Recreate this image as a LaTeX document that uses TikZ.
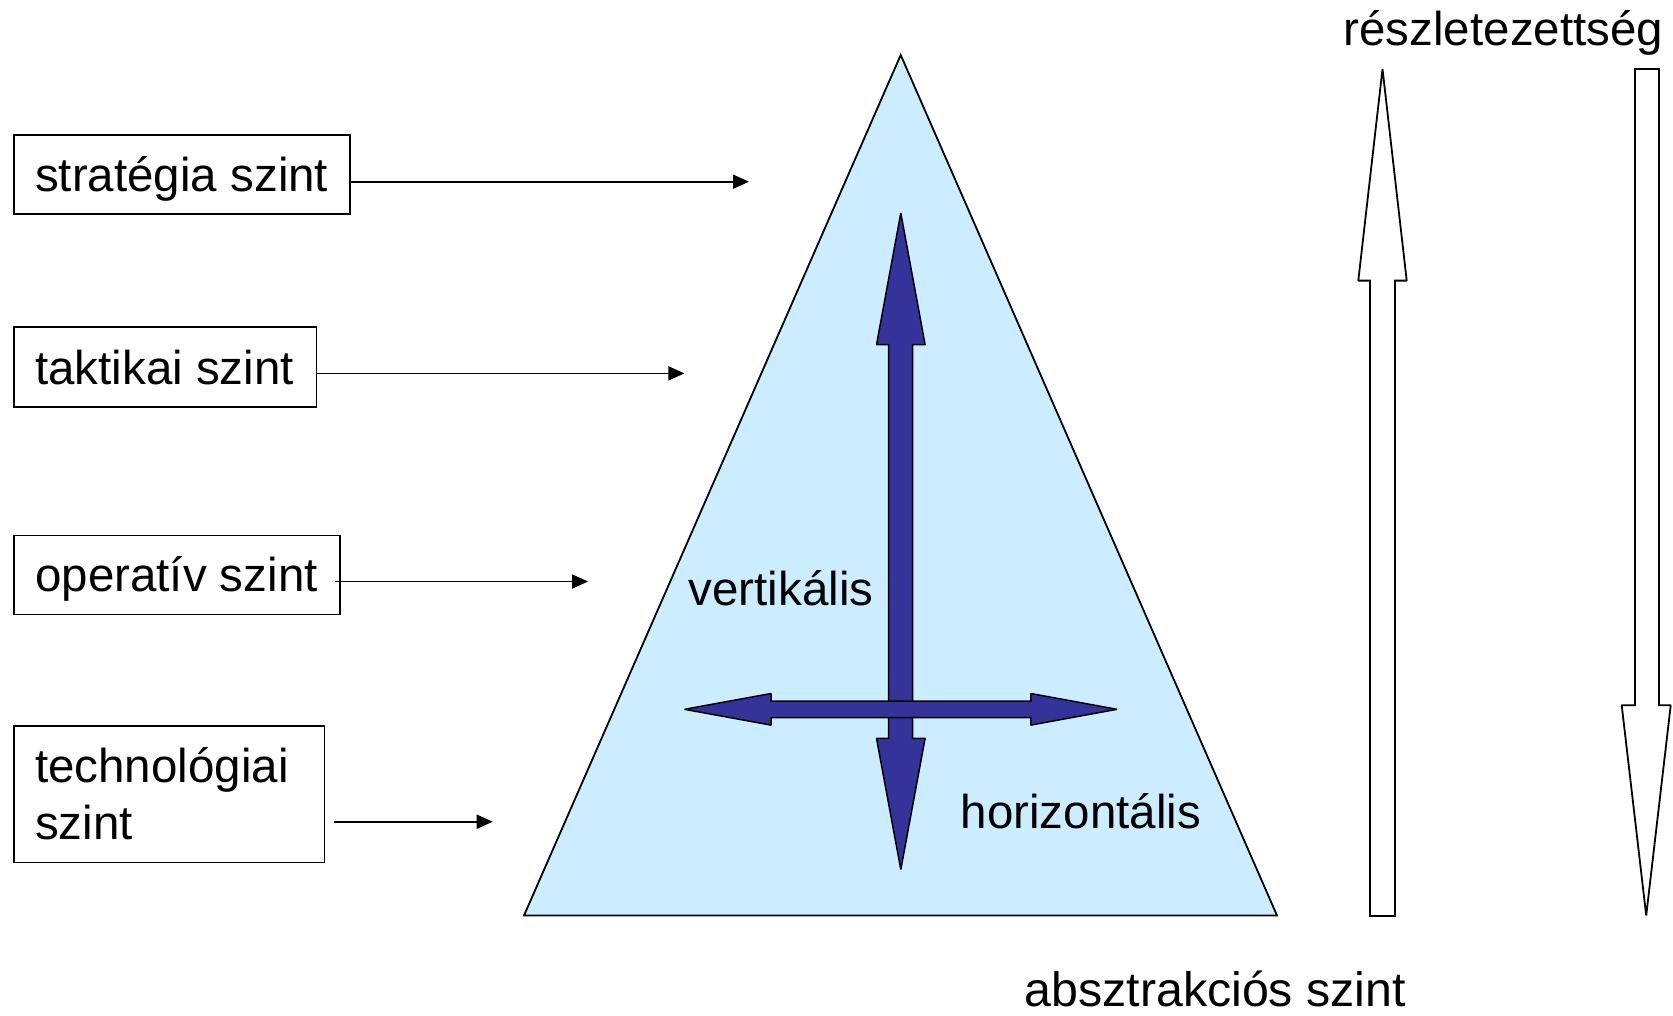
\documentclass[tikz,border=0pt]{standalone}
\usepackage{fontspec}
\setmainfont{Liberation Sans}
\usetikzlibrary{arrows.meta}
\definecolor{pyrfill}{HTML}{CCECFF}
\definecolor{darkarrow}{HTML}{333399}
\tikzset{
  lbl/.style={inner sep=0pt, anchor=base west, font=\fontsize{47.5}{57.7}\selectfont},
  levelbox/.style={draw=black, line width=1.8pt, inner sep=0pt, anchor=north west},
  conn/.style={line width=1.8pt, -{Triangle[length=16pt,width=14pt]}},
  blockdark/.style={fill=darkarrow, draw=black, line width=1.5pt, line join=miter, miter limit=1.5},
  blockwhite/.style={fill=white, draw=black, line width=1.8pt, line join=miter, miter limit=1.5},
}
\begin{document}
\begin{tikzpicture}[x=1pt,y=-1pt]
\useasboundingbox (0,0) rectangle (1673,1015);

% pyramid
\draw[fill=pyrfill, line width=1.8pt, line join=miter] (900.7,55) -- (1277,915.5) -- (524,915.5) -- cycle;

% vertical double arrow
\draw[blockdark] (900.8,213) -- (925.1,344.7) -- (912.7,344.7) -- (912.7,738.3)
  -- (925.1,738.3) -- (900.8,869.5) -- (876.5,738.3) -- (888.5,738.3)
  -- (888.5,344.7) -- (876.5,344.7) -- cycle;
% horizontal double arrow
\draw[blockdark] (684.5,709.3) -- (771,693.5) -- (771,701) -- (1030.8,701)
  -- (1030.8,693.5) -- (1117,709.3) -- (1030.8,725.1) -- (1030.8,717.6)
  -- (771,717.6) -- (771,725.1) -- cycle;

% right block arrows
\draw[blockwhite] (1382.5,69) -- (1406.7,280.6) -- (1395,280.6) -- (1395,916)
  -- (1370,916) -- (1370,280.6) -- (1358.3,280.6) -- cycle;
\draw[blockwhite] (1635,69) -- (1659,69) -- (1659,705.3) -- (1670.7,705.3)
  -- (1646.2,915.5) -- (1621.7,705.3) -- (1635,705.3) -- cycle;

% level boxes
\node[levelbox, minimum width=336pt, minimum height=79pt] (b1) at (13.3,134.3) {};
\node[levelbox, minimum width=302.2pt, minimum height=79.5pt] (b2) at (13.3,326.3) {};
\node[levelbox, minimum width=326pt, minimum height=79pt] (b3) at (13.3,534.5) {};
\node[levelbox, minimum width=310.2pt, minimum height=136.5pt] (b4) at (13.3,725) {};

\node[lbl] (t1) at (35,191.7) {stratégia szint};
\node[lbl] (t2) at (35,384) {taktikai szint};
\node[lbl] (t3) at (35,591.7) {operatív szint};
\node[lbl, align=left, anchor=north west] (t4) at (35,747) {technológiai\\szint};

% connector targets
\coordinate (e1) at (749,181.7);
\coordinate (e2) at (684.4,373.4);
\coordinate (e3) at (588,581.5);
\coordinate (e4) at (492.7,821.7);

\draw[conn] (b1.east |- e1) -- (e1);
\draw[conn] (b2.east |- e2) -- (e2);
\draw[conn] ([xshift=-6.6pt]b3.east |- e3) -- (e3);
\draw[conn] ([xshift=8.7pt]b4.east |- e4) -- (e4);

% other labels
\node[lbl] (vert) at (688.5,605.5) {vertikális};
\node[lbl] (horiz) at (960.5,828) {horizontális};
\node[lbl, font=\fontsize{48.3}{58}\selectfont] (abs) at (1024.5,1006) {absztrakciós szint};
\node[lbl] (resz) at (1343.5,45.5) {részletezettség};
\end{tikzpicture}
\end{document}
